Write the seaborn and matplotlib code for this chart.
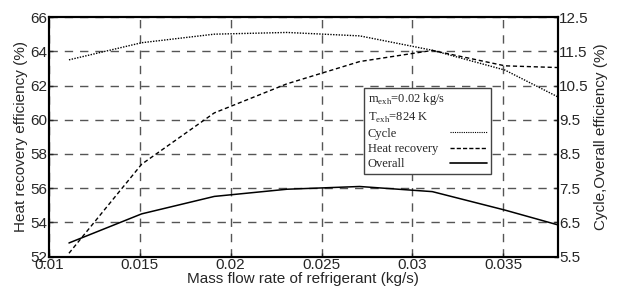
import matplotlib
matplotlib.use('Agg')
import matplotlib.pyplot as plt
from matplotlib.lines import Line2D
import seaborn as sns
import pandas as pd

# data
mass_flow = [0.0111, 0.0151, 0.0191, 0.0231, 0.0271, 0.0311, 0.0351, 0.038]
heat_recovery = [52.2, 57.4, 60.4, 62.1, 63.4, 64.05, 63.15, 63.05]
cycle = [11.25, 11.75, 12.0, 12.05, 11.95, 11.53, 10.95, 10.17]
overall = [5.9, 6.75, 7.26, 7.47, 7.55, 7.4, 6.86, 6.43]

left_ticks = [52, 54, 56, 58, 60, 62, 64, 66]
right_ticks = [5.5, 6.5, 7.5, 8.5, 9.5, 10.5, 11.5, 12.5]
x_ticks = [0.01, 0.015, 0.02, 0.025, 0.03, 0.035]

df = pd.DataFrame({'mass_flow': mass_flow, 'heat_recovery': heat_recovery,
                   'cycle': cycle, 'overall': overall})

sns.set_style('ticks')
plt.rcParams['font.family'] = ['Liberation Sans', 'DejaVu Sans']
plt.rcParams['mathtext.fontset'] = 'custom'
plt.rcParams['mathtext.rm'] = 'Liberation Serif'

fig = plt.figure(figsize=(6.2, 2.91), dpi=100)
ax = fig.add_axes([0.079, 0.118, 0.8205, 0.8234])
ax2 = ax.twinx()

sns.lineplot(data=df, x='mass_flow', y='heat_recovery', ax=ax, color='black',
             linewidth=1.0, linestyle=(0, (3, 2)))
sns.lineplot(data=df, x='mass_flow', y='cycle', ax=ax2, color='black',
             linewidth=1.0, linestyle=(0, (1, 1)))
sns.lineplot(data=df, x='mass_flow', y='overall', ax=ax2, color='black',
             linewidth=1.1, linestyle='-')

ax.set_xlim(0.01, 0.038)
ax.set_ylim(52, 66)
ax2.set_ylim(5.5, 12.5)
ax.set_xticks(x_ticks)
ax.set_xticklabels(['0.01', '0.015', '0.02', '0.025', '0.03', '0.035'])
ax.set_yticks(left_ticks)
ax2.set_yticks(right_ticks)
ax2.set_yticklabels([str(t) for t in right_ticks])

ax.grid(True, color='#555555', linestyle=(0, (6, 5)), linewidth=1.0)
ax.set_axisbelow(True)

for a in (ax, ax2):
    a.tick_params(direction='in', length=3, labelsize=11, pad=1, width=1)
    for s in a.spines.values():
        s.set_linewidth(1.5)
        s.set_color('black')

ax.set_xlabel('Mass flow rate of refrigerant (kg/s)', fontsize=11, labelpad=0)
ax.set_ylabel('Heat recovery efficiency (%)', fontsize=11, labelpad=2)
ax2.set_ylabel('Cycle,Overall efficiency (%)', fontsize=11, labelpad=4)

blank = Line2D([], [], color='none')
handles = [blank, blank,
           Line2D([], [], color='black', linewidth=0.8, linestyle=(0, (1, 1))),
           Line2D([], [], color='black', linewidth=1.0, linestyle=(0, (3, 1.5))),
           Line2D([], [], color='black', linewidth=1.2)]
labels = [r'm$_{\rm exh}$=0.02 kg/s', r'T$_{\rm exh}$=824 K',
          'Cycle', 'Heat recovery', 'Overall']
leg = ax2.legend(handles, labels, loc='upper left', bbox_to_anchor=(0.619, 0.705),
                 markerfirst=False, frameon=True, fancybox=False,
                 prop={'family': 'Liberation Serif', 'size': 9},
                 handlelength=3.0, handletextpad=0.4, labelspacing=0.25,
                 borderpad=0.3, borderaxespad=0)
leg.get_frame().set_edgecolor('#444444')
leg.get_frame().set_linewidth(1.0)
leg.get_frame().set_alpha(1)

# left-align the legend texts, handles on the right edge
fig.canvas.draw()
renderer = fig.canvas.get_renderer()
items = [it for col in leg._legend_handle_box.get_children() for it in col.get_children()]
w = max(it.get_bbox(renderer).width for it in items)
for it in items:
    it.mode = 'expand'
    it.width = w

fig.savefig('out.png', dpi=100)
